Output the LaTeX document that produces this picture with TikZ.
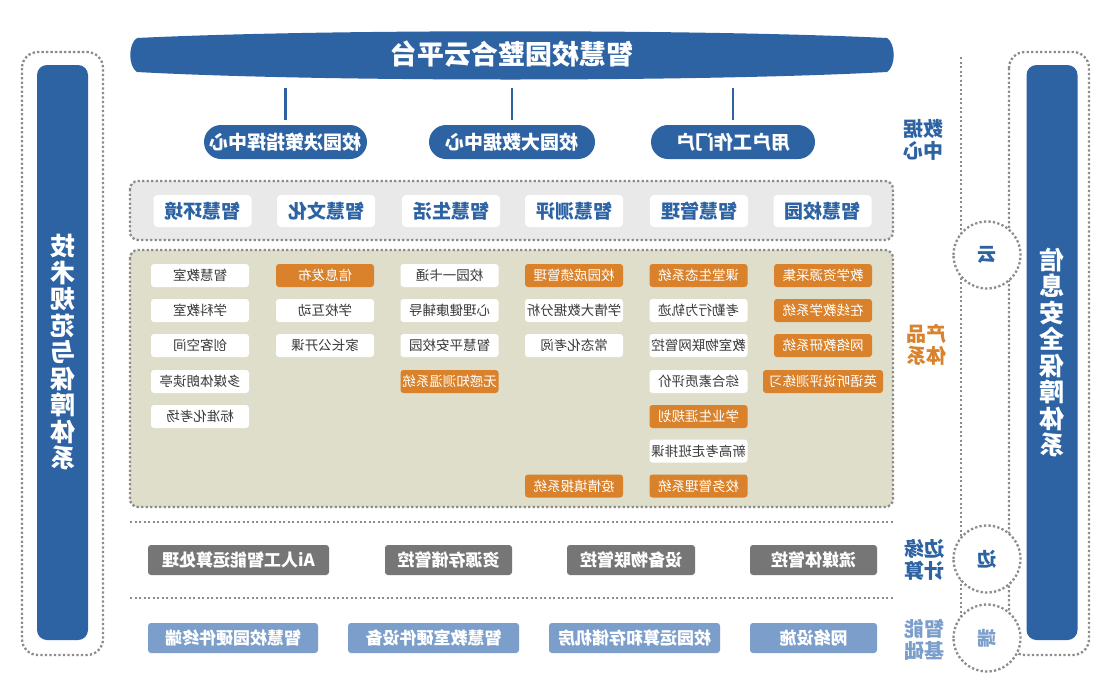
\documentclass[tikz,border=0pt]{standalone}
\usepackage{fontspec}
\setmainfont{Noto Sans CJK SC}
\usepackage{xcolor}
\definecolor{vizBlue}{HTML}{2D63A3}
\definecolor{vizOrange}{HTML}{D9822B}
\definecolor{vizGray}{HTML}{767676}
\definecolor{vizLight}{HTML}{7B9ECB}
\definecolor{vizBeige}{HTML}{DFDECB}
\definecolor{vizPanel}{HTML}{E9E9E9}
\definecolor{vizDots}{HTML}{8C8C8C}
\definecolor{vizText}{HTML}{3A3A3A}

\tikzset{
  mirror/.style={xscale=-1},
  dotline/.style={draw=vizDots, line width=2.3pt, dash pattern=on 2.3pt off 2.2pt},
  link/.style={draw=vizBlue, line width=2.6pt, shorten <=5pt},
  pill/.style={mirror, fill=vizBlue, text=white, rounded corners=17pt, minimum height=34pt,
    inner sep=0pt, font=\fontsize{19}{21}\selectfont\bfseries},
  tab/.style={mirror, fill=white, text=vizBlue, rounded corners=4pt, minimum width=98pt,
    minimum height=32pt, inner sep=0pt, font=\fontsize{19}{21}\selectfont\bfseries},
  item/.style={mirror, fill=white, text=vizText, rounded corners=3pt, minimum width=98pt,
    minimum height=23pt, inner sep=0pt, font=\fontsize{13.5}{15}\selectfont},
  hot/.style={item, fill=vizOrange, text=white},
  edgebox/.style={mirror, fill=vizGray, text=white, rounded corners=3pt, minimum height=30pt,
    inner sep=0pt, font=\fontsize{17}{19}\selectfont\bfseries},
  basebox/.style={edgebox, fill=vizLight},
  column/.style={mirror, fill=vizBlue, text=white, rounded corners=10pt, minimum width=51pt,
    minimum height=575pt, inner sep=0pt, align=center, font=\fontsize{25}{26.5}\selectfont\bfseries},
  tag/.style={mirror, align=center, inner sep=0pt, font=\fontsize{20}{22}\selectfont\bfseries},
  ring/.style={mirror, circle, dotline, fill=white, minimum size=67pt, inner sep=0pt,
    text=vizBlue, font=\fontsize{19}{21}\selectfont\bfseries}
}

\begin{document}
\begin{tikzpicture}[x=1pt, y=-1pt]
  \useasboundingbox (0,0) rectangle (1108,686);
  \fill[white] (0,0) rectangle (1108,686);

  % side columns
  \draw[dotline, rounded corners=16pt] (22,52) rectangle (103,655);
  \node[column] (tech) at (62.5,352.5) {技\\术\\规\\范\\与\\保\\障\\体\\系};
  \draw[dotline, rounded corners=16pt] (1009,52) rectangle (1089,655);
  \node[column] (secure) at (1052,352.5) {信\\息\\安\\全\\保\\障\\体\\系};

  % cloud platform
  \fill[vizBlue] (137,38) .. controls (320,29) and (700,29) .. (887,38)
    .. controls (896,44) and (896,66) .. (887,72)
    .. controls (700,82) and (320,82) .. (137,72)
    .. controls (128,66) and (128,44) .. (137,38) -- cycle;
  \node[mirror, text=white, font=\fontsize{27}{29}\selectfont\bfseries] (cloud) at (512,54) {智慧校园整合云平台};
  \coordinate (cloudfoot) at (512,88);

  \node[pill, minimum width=163pt] (decide) at (285.5,142) {校园决策指挥中心};
  \node[pill, minimum width=166pt] (bigdata) at (512,142) {校园大数据中心};
  \node[pill, minimum width=164pt] (portal) at (733,142) {用户工作门户};
  \draw[link] (decide.north) -- (decide.north |- cloudfoot);
  \draw[link] (bigdata.north) -- (bigdata.north |- cloudfoot);
  \draw[link] (portal.north) -- (portal.north |- cloudfoot);
  \node[tag, text=vizBlue] (datalab) at (923,140) {数据\\中心};

  % smart areas
  \draw[dotline, fill=vizPanel, rounded corners=8pt] (130,181) rectangle (893,240);
  \node[tab] (env) at (202.5,211) {智慧环境};
  \node[tab] (cult) at (326,211) {智慧文化};
  \node[tab] (life) at (451,211) {智慧生活};
  \node[tab] (eval) at (574,211) {智慧测评};
  \node[tab] (mgmt) at (699,211) {智慧管理};
  \node[tab] (camp) at (822.5,211) {智慧校园};

  % products
  \draw[dotline, fill=vizBeige, rounded corners=8pt] (130,250) rectangle (893,507);
  \node[item] (envA) at (200,275.5) {智慧教室};
  \node[item] (envB) at (200,310.5) {学科教室};
  \node[item] (envC) at (200,345.5) {创客空间};
  \node[item] (envD) at (200,381.5) {多媒体朗读亭};
  \node[item] (envE) at (200,416.5) {标准化考场};

  \node[hot] (cultA) at (325,275.5) {信息发布};
  \node[item] (cultB) at (325,310.5) {学校互动};
  \node[item] (cultC) at (325,345.5) {家长公开课};

  \node[item] (lifeA) at (449.5,275.5) {校园一卡通};
  \node[item] (lifeB) at (449.5,310.5) {心理健康辅导};
  \node[item] (lifeC) at (449.5,345.5) {智慧平安校园};
  \node[hot] (lifeD) at (449.5,381.5) {无感知测温系统};

  \node[hot] (evalA) at (574,275.5) {校园成绩管理};
  \node[item] (evalB) at (574,310.5) {学情大数据分析};
  \node[item] (evalC) at (574,345.5) {常态化考阅};
  \node[hot] (evalD) at (574,486) {疫情填报系统};

  \node[hot] (mgmtA) at (698.5,275.5) {课堂生态系统};
  \node[item] (mgmtB) at (698.5,310.5) {考勤行为轨迹};
  \node[item] (mgmtC) at (698.5,345.5) {教室物联网管控};
  \node[item] (mgmtD) at (698.5,381.5) {综合素质评价};
  \node[hot] (mgmtE) at (698.5,416.5) {学业生涯规划};
  \node[item] (mgmtF) at (698.5,451) {新高考走班排课};
  \node[hot] (mgmtG) at (698.5,486) {校务管理系统};

  \node[hot] (campA) at (823,275.5) {教学资源采集};
  \node[hot] (campB) at (823,310.5) {在线教学系统};
  \node[hot] (campC) at (823,345.5) {网络教研系统};
  \node[hot, minimum width=120pt] (campD) at (823,381.5) {英语听说评测练习};
  \node[tag, text=vizOrange] (prodlab) at (926,345) {产品\\体系};

  % edge computing
  \draw[dotline] (130,522) -- (893,522);
  \node[edgebox, minimum width=181pt] (ai) at (238.5,560) {Ai人工智能运算处理};
  \node[edgebox, minimum width=127pt] (store) at (448.5,560) {资源存储管控};
  \node[edgebox, minimum width=128pt] (iot) at (631,560) {设备物联管控};
  \node[edgebox, minimum width=127pt] (media) at (813.5,560) {流媒体管控};
  \node[tag, text=vizBlue] (edgelab) at (924,560) {边缘\\计算};

  % infrastructure
  \draw[dotline] (130,598) -- (893,598);
  \node[basebox, minimum width=170pt] (hwcamp) at (233,638) {智慧校园硬件终端};
  \node[basebox, minimum width=171pt] (hwroom) at (433.5,638) {智慧教室硬件设备};
  \node[basebox, minimum width=171pt] (server) at (634.5,638) {校园运算和存储机房};
  \node[basebox, minimum width=127pt] (net) at (813.5,638) {网络设施};
  \node[tag, text=vizLight] (baselab) at (924,640) {智能\\基础};

  % cloud / edge / end
  \draw[dotline] (961,57) -- (961,640);
  \node[ring] (yun) at (987,255) {云};
  \node[ring] (bian) at (987,559) {边};
  \node[ring, text=vizLight] (duan) at (987,638) {端};
\end{tikzpicture}
\end{document}
